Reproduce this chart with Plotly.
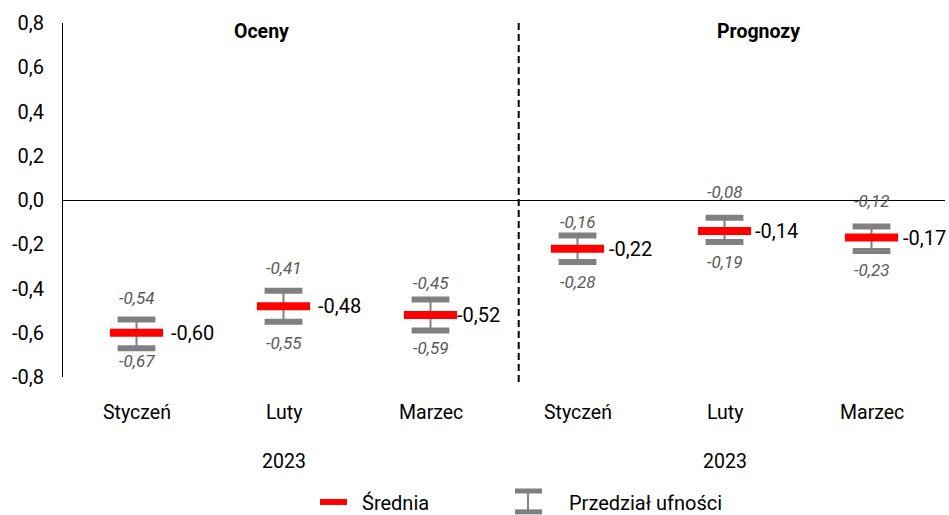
import plotly.graph_objects as go

# ---- data ----
months = ["Styczeń", "Luty", "Marzec", "Styczeń", "Luty", "Marzec"]
mean_vals = [-0.60, -0.48, -0.52, -0.22, -0.14, -0.17]
lower_vals = [-0.67, -0.55, -0.59, -0.28, -0.19, -0.23]
upper_vals = [-0.54, -0.41, -0.45, -0.16, -0.08, -0.12]
group_titles = ["Oceny", "Prognozy"]
year_labels = ["2023", "2023"]
y_tick_vals = [-0.8, -0.6, -0.4, -0.2, 0.0, 0.2, 0.4, 0.6, 0.8]

# ---- label nudges (pixels, style only) ----
mean_dx = [32, 32, 24, 29, 28, 29]
upper_dy = [21, 23, 17, 13, 26, 26]
lower_dy = [13, 21, 17, 20, 20, 19]

FONT = "Roboto"
GREY = "#808080"
LABEL_GREY = "#595959"
RED = "#FF0000"

def fmt(v, nd=2):
    return f"{v:.{nd}f}".replace(".", ",")

xs = list(range(len(months)))

fig = go.Figure()

# stems
stem_x, stem_y = [], []
for i, lo, hi in zip(xs, lower_vals, upper_vals):
    stem_x += [i, i, None]
    stem_y += [lo, hi, None]
fig.add_trace(go.Scatter(x=stem_x, y=stem_y, mode="lines",
                         line=dict(color=GREY, width=2), hoverinfo="skip", showlegend=False))
# caps
fig.add_trace(go.Scatter(x=xs + xs, y=upper_vals + lower_vals, mode="markers",
                         marker=dict(symbol="line-ew", size=27, line=dict(color=GREY, width=6)),
                         hoverinfo="skip", showlegend=False))
# means
fig.add_trace(go.Scatter(x=xs, y=mean_vals, mode="markers",
                         marker=dict(symbol="line-ew", size=38, line=dict(color=RED, width=8)),
                         showlegend=False))

ann = []
for i in xs:
    ann.append(dict(x=i, y=mean_vals[i], text=fmt(mean_vals[i]), xanchor="left", yanchor="middle",
                    xshift=mean_dx[i], showarrow=False, font=dict(family=FONT, size=20, color="black")))
    ann.append(dict(x=i, y=upper_vals[i], text=f"<i>{fmt(upper_vals[i])}</i>", xanchor="center",
                    yanchor="middle", yshift=upper_dy[i], showarrow=False,
                    font=dict(family=FONT, size=17, color=LABEL_GREY)))
    ann.append(dict(x=i, y=lower_vals[i], text=f"<i>{fmt(lower_vals[i])}</i>", xanchor="center",
                    yanchor="middle", yshift=-lower_dy[i], showarrow=False,
                    font=dict(family=FONT, size=17, color=LABEL_GREY)))
    ann.append(dict(x=i, y=-0.099, yref="paper", text=months[i], xanchor="center", yanchor="middle",
                    showarrow=False, font=dict(family=FONT, size=19.5, color="black")))

for k, yl in enumerate(year_labels):
    ann.append(dict(x=1 + 3 * k, y=-0.240, yref="paper", text=yl, xanchor="center", yanchor="middle",
                    showarrow=False, font=dict(family=FONT, size=19.5, color="black")))

for xp, t in zip([0.2245, 0.789], group_titles):
    ann.append(dict(x=xp, xref="paper", y=0.975, yref="paper", text=f"<b>{t}</b>", xanchor="center",
                    yanchor="middle", showarrow=False, font=dict(family=FONT, size=19.5, color="black")))

# legend (custom)
ann.append(dict(x=0.3367, xref="paper", y=-0.356, yref="paper", text="Średnia", xanchor="left",
                yanchor="middle", showarrow=False, font=dict(family=FONT, size=20, color="black")))
ann.append(dict(x=0.5714, xref="paper", y=-0.356, yref="paper", text="Przedział ufności", xanchor="left",
                yanchor="middle", showarrow=False, font=dict(family=FONT, size=20, color="black")))

shapes = [
    dict(type="line", x0=2.6, x1=2.6, xref="x", y0=-0.014, y1=1.008, yref="paper",
         line=dict(color="black", width=2, dash="7px,4px")),
    dict(type="line", x0=0.2914, x1=0.3220, xref="paper", y0=-0.353, y1=-0.353, yref="paper",
         line=dict(color=RED, width=6)),
    dict(type="line", x0=0.5272, x1=0.5272, xref="paper", y0=-0.322, y1=-0.381, yref="paper",
         line=dict(color=GREY, width=2)),
    dict(type="line", x0=0.5125, x1=0.5431, xref="paper", y0=-0.322, y1=-0.322, yref="paper",
         line=dict(color=GREY, width=5)),
    dict(type="line", x0=0.5125, x1=0.5431, xref="paper", y0=-0.381, y1=-0.381, yref="paper",
         line=dict(color=GREY, width=5)),
]

fig.update_layout(
    width=949, height=515,
    margin=dict(l=63, r=4, t=23, b=138),
    paper_bgcolor="white", plot_bgcolor="white",
    annotations=ann, shapes=shapes,
    font=dict(family=FONT, size=19, color="black"),
    xaxis=dict(range=[-0.5, 5.5], showticklabels=False, showgrid=False, zeroline=False,
               showline=False, fixedrange=True),
    yaxis=dict(range=[-0.8, 0.8], tickvals=y_tick_vals, ticktext=[fmt(v, 1) for v in y_tick_vals],
               showgrid=False, zeroline=True, zerolinecolor="black", zerolinewidth=1,
               showline=True, linecolor="black", linewidth=1, ticks="", ticklabelstandoff=14,
               tickfont=dict(family=FONT, size=20, color="black")),
    showlegend=False,
)

fig.write_html("out.html", config={"displayModeBar": False},
               post_script="document.body.style.margin='0';document.body.style.overflow='hidden';")
